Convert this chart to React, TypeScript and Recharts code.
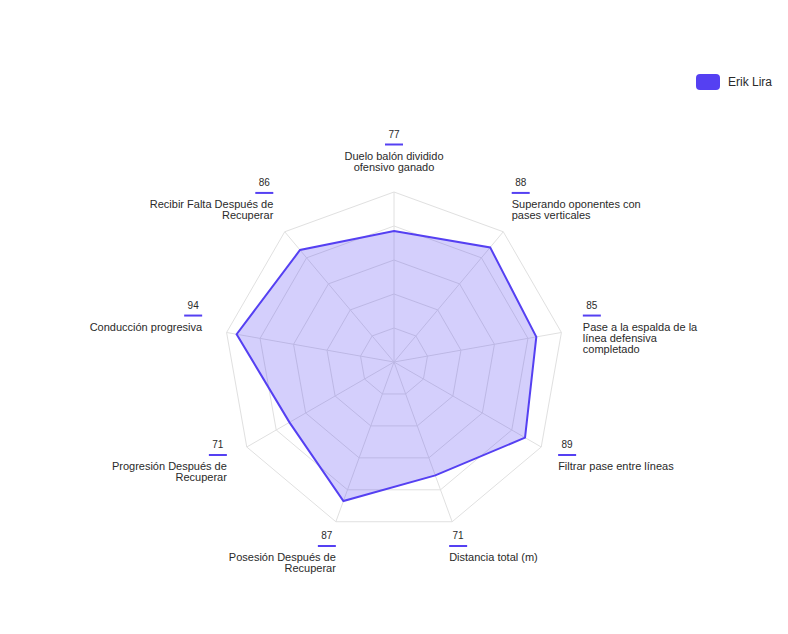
import React from "react";
import {
  RadarChart,
  Radar,
  PolarGrid,
  PolarAngleAxis,
  PolarRadiusAxis,
} from "recharts";

// Axis labels, clockwise from the top ("\n" = line break as in the source)
const categories = [
  "Duelo balón dividido\nofensivo ganado",
  "Superando oponentes con\npases verticales",
  "Pase a la espalda de la\nlínea defensiva\ncompletado",
  "Filtrar pase entre líneas",
  "Distancia total (m)",
  "Posesión Después de\nRecuperar",
  "Progresión Después de\nRecuperar",
  "Conducción progresiva",
  "Recibir Falta Después de\nRecuperar",
];

const values = [77, 88, 85, 89, 71, 87, 71, 94, 86];

const seriesName = "Erik Lira";

const COLOR = "#5540F2";
const FONT = "'Liberation Sans', Arial, sans-serif";
const CX = 394;
const CY = 362;
const RADIUS = 170;

const data = categories.map((c, i) => ({ category: c, value: values[i] }));

/** Label block: value, short colored bar, then the (multi-line) category. */
function AngleTick(props: any) {
  const index: number = props.index ?? props.payload?.index ?? 0;
  const label = String(props.payload?.value ?? "");
  const n = categories.length;
  const a = ((90 - (index * 360) / n) * Math.PI) / 180;
  const cos = Math.cos(a);
  const sin = Math.sin(a);

  let anchor: "start" | "middle" | "end" = "middle";
  let x = CX + 208 * cos;
  if (cos > 0.1) {
    anchor = "start";
    x -= 16;
  } else if (cos < -0.1) {
    anchor = "end";
    x += 13;
  }

  const base = CY - 207 * sin + 4.5;
  const barY = base - 15;
  const barW = 18;
  const barX1 = anchor === "start" ? x : anchor === "end" ? x - barW : x - barW / 2;
  const lines = label.split("\n");

  return (
    <g>
      <text
        x={barX1 + barW / 2}
        y={barY - 7}
        textAnchor="middle"
        fontSize={10}
        fontFamily={FONT}
        fill="#2a2a2a"
      >
        {values[index]}
      </text>
      <line x1={barX1} x2={barX1 + barW} y1={barY} y2={barY} stroke={COLOR} strokeWidth={2} />
      <text x={x} y={base} textAnchor={anchor} fontSize={11} fontFamily={FONT} fill="#2a2a2a">
        {lines.map((l, i) => (
          <tspan key={i} x={x} dy={i === 0 ? 0 : 11}>
            {l}
          </tspan>
        ))}
      </text>
    </g>
  );
}

export default function App() {
  return (
    <div
      style={{
        position: "absolute",
        left: 0,
        top: 0,
        width: 788,
        height: 634,
        background: "#fff",
        fontFamily: FONT,
      }}
    >
      <RadarChart
        width={788}
        height={634}
        data={data}
        cx={CX}
        cy={CY}
        outerRadius={RADIUS}
        margin={{ top: 0, right: 0, bottom: 0, left: 0 }}
      >
        <PolarGrid gridType="polygon" stroke="#e0e0e0" strokeWidth={1} />
        <PolarAngleAxis
          dataKey="category"
          tick={<AngleTick />}
          tickLine={false}
          axisLine={false}
        />
        <PolarRadiusAxis
          domain={[0, 100]}
          tickCount={6}
          tick={false}
          axisLine={false}
        />
        <Radar
          name={seriesName}
          dataKey="value"
          stroke={COLOR}
          strokeWidth={2}
          fill={COLOR}
          fillOpacity={0.25}
          isAnimationActive={false}
        />
      </RadarChart>

      <div
        style={{
          position: "absolute",
          left: 696,
          top: 74,
          display: "flex",
          alignItems: "center",
          fontSize: 12,
          color: "#2a2a2a",
        }}
      >
        <span
          style={{
            width: 24,
            height: 16,
            borderRadius: 4,
            background: COLOR,
            display: "inline-block",
            marginRight: 8,
          }}
        />
        <span>{seriesName}</span>
      </div>
    </div>
  );
}
